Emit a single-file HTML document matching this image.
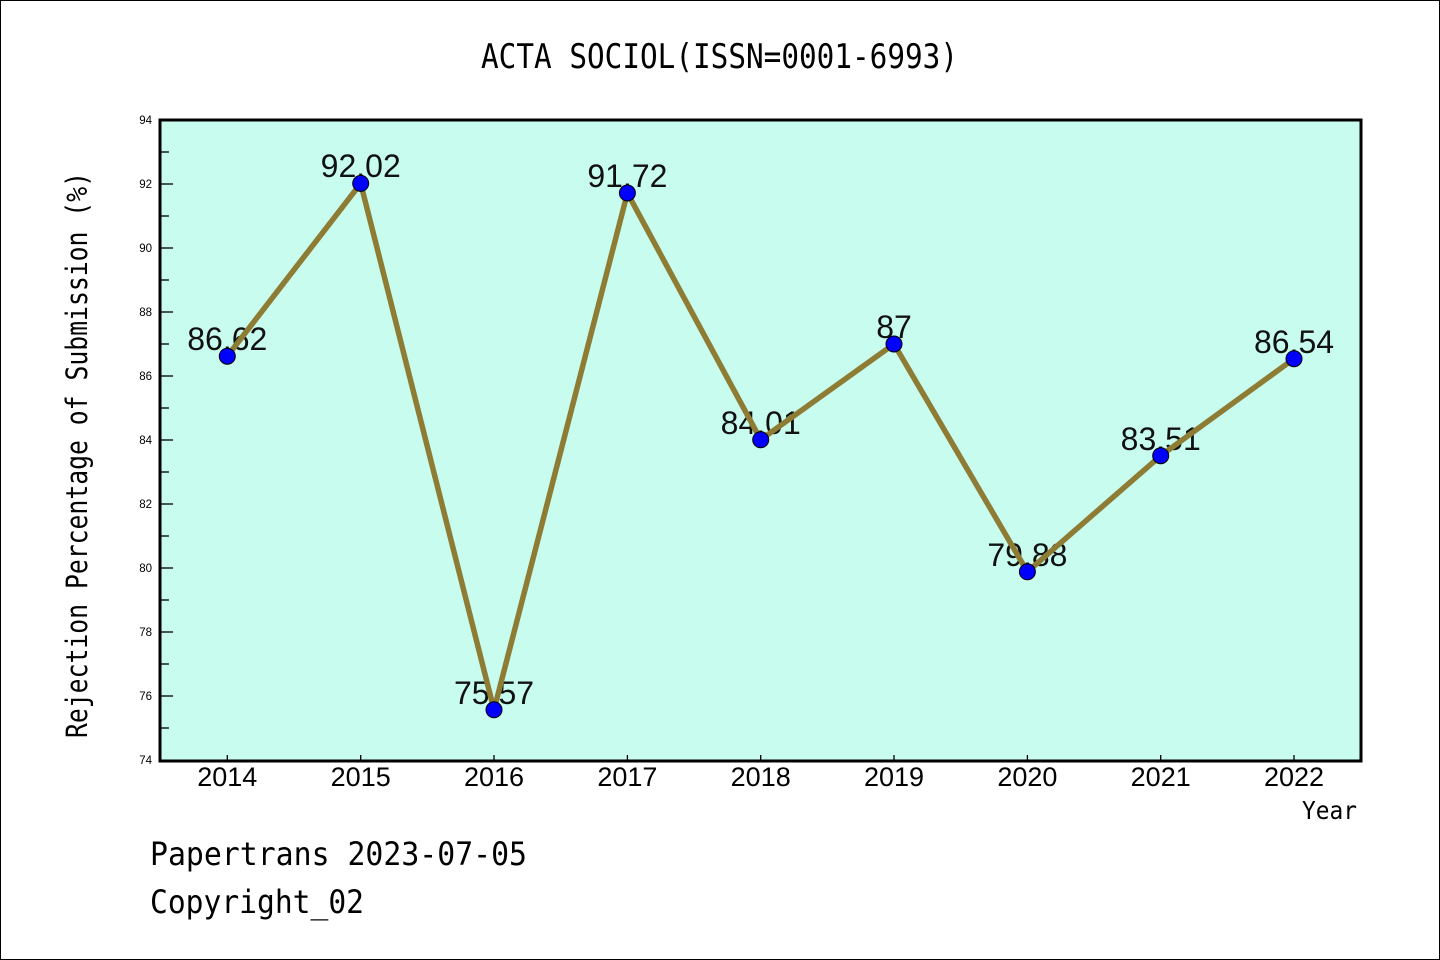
<!DOCTYPE html>
<html><head><meta charset="utf-8"><style>
html,body{margin:0;padding:0;background:#fff;}
svg{display:block;}
</style></head><body>
<svg width="1440" height="960" viewBox="0 0 1440 960" xmlns="http://www.w3.org/2000/svg">
<rect x="0.5" y="0.5" width="1439" height="959" fill="#fff" stroke="#000" stroke-width="1"/>
<text x="481" y="68" font-family="DejaVu Sans Mono, Liberation Mono, monospace" font-size="34" textLength="477" lengthAdjust="spacingAndGlyphs" fill="#000">ACTA SOCIOL(ISSN=0001-6993)</text>
<rect x="160" y="120" width="1201" height="641" fill="#c7fcee"/>
<g stroke="#000" stroke-width="1.3">
<line x1="161" y1="152" x2="169" y2="152"/><line x1="161" y1="184" x2="173" y2="184"/>
<line x1="161" y1="216" x2="169" y2="216"/><line x1="161" y1="248" x2="173" y2="248"/>
<line x1="161" y1="280" x2="169" y2="280"/><line x1="161" y1="312" x2="173" y2="312"/>
<line x1="161" y1="344" x2="169" y2="344"/><line x1="161" y1="376" x2="173" y2="376"/>
<line x1="161" y1="408" x2="169" y2="408"/><line x1="161" y1="440" x2="173" y2="440"/>
<line x1="161" y1="472" x2="169" y2="472"/><line x1="161" y1="504" x2="173" y2="504"/>
<line x1="161" y1="536" x2="169" y2="536"/><line x1="161" y1="568" x2="173" y2="568"/>
<line x1="161" y1="600" x2="169" y2="600"/><line x1="161" y1="632" x2="173" y2="632"/>
<line x1="161" y1="664" x2="169" y2="664"/><line x1="161" y1="696" x2="173" y2="696"/>
<line x1="161" y1="728" x2="169" y2="728"/>
<line x1="227.3" y1="755" x2="227.3" y2="760"/><line x1="360.7" y1="755" x2="360.7" y2="760"/>
<line x1="494" y1="755" x2="494" y2="760"/><line x1="627.4" y1="755" x2="627.4" y2="760"/>
<line x1="760.7" y1="755" x2="760.7" y2="760"/><line x1="894" y1="755" x2="894" y2="760"/>
<line x1="1027.4" y1="755" x2="1027.4" y2="760"/><line x1="1160.7" y1="755" x2="1160.7" y2="760"/>
<line x1="1294" y1="755" x2="1294" y2="760"/>
</g>
<g font-family="Liberation Sans, sans-serif" font-size="11.5" fill="#000" text-anchor="end">
<text x="152" y="124">94</text><text x="152" y="188">92</text><text x="152" y="252">90</text>
<text x="152" y="316">88</text><text x="152" y="380">86</text><text x="152" y="444">84</text>
<text x="152" y="508">82</text><text x="152" y="572">80</text><text x="152" y="636">78</text>
<text x="152" y="700">76</text><text x="152" y="764">74</text>
</g>
<g font-family="Liberation Sans, sans-serif" font-size="27" fill="#000" text-anchor="middle">
<text x="227.3" y="786">2014</text><text x="360.7" y="786">2015</text><text x="494" y="786">2016</text>
<text x="627.4" y="786">2017</text><text x="760.7" y="786">2018</text><text x="894" y="786">2019</text>
<text x="1027.4" y="786">2020</text><text x="1160.7" y="786">2021</text><text x="1294" y="786">2022</text>
</g>
<g font-family="Liberation Sans, sans-serif" font-size="32" fill="#111" text-anchor="middle">
<text x="227.3" y="350">86.62</text><text x="360.7" y="177">92.02</text><text x="494" y="704">75.57</text>
<text x="627.4" y="187">91.72</text><text x="760.7" y="434">84.01</text><text x="894" y="338">87</text>
<text x="1027.4" y="566">79.88</text><text x="1160.7" y="450">83.51</text><text x="1294" y="353">86.54</text>
</g>
<polyline fill="none" stroke="#8e7c35" stroke-width="5.5" stroke-linejoin="round" points="227.3,356.2 360.7,183.4 494,709.8 627.4,193 760.7,439.7 894,344 1027.4,571.8 1160.7,455.7 1294,358.7"/>
<g fill="#0000ff" stroke="#000" stroke-width="1">
<circle cx="227.3" cy="356.2" r="8"/><circle cx="360.7" cy="183.4" r="8"/><circle cx="494" cy="709.8" r="8"/>
<circle cx="627.4" cy="193" r="8"/><circle cx="760.7" cy="439.7" r="8"/><circle cx="894" cy="344" r="8"/>
<circle cx="1027.4" cy="571.8" r="8"/><circle cx="1160.7" cy="455.7" r="8"/><circle cx="1294" cy="358.7" r="8"/>
</g>
<rect x="160" y="120" width="1201" height="641" fill="none" stroke="#000" stroke-width="3"/>
<text x="1302" y="819" font-family="DejaVu Sans Mono, Liberation Mono, monospace" font-size="25" textLength="55" lengthAdjust="spacingAndGlyphs" fill="#000">Year</text>
<text transform="translate(87,455) rotate(-90)" text-anchor="middle" font-family="DejaVu Sans Mono, Liberation Mono, monospace" font-size="29" textLength="566" lengthAdjust="spacingAndGlyphs" fill="#000">Rejection Percentage of Submission (%)</text>
<text x="150" y="865" font-family="DejaVu Sans Mono, Liberation Mono, monospace" font-size="32" textLength="377" lengthAdjust="spacingAndGlyphs" fill="#000">Papertrans 2023-07-05</text>
<text x="150" y="913" font-family="DejaVu Sans Mono, Liberation Mono, monospace" font-size="32" textLength="214" lengthAdjust="spacingAndGlyphs" fill="#000">Copyright_02</text>
</svg>
</body></html>
